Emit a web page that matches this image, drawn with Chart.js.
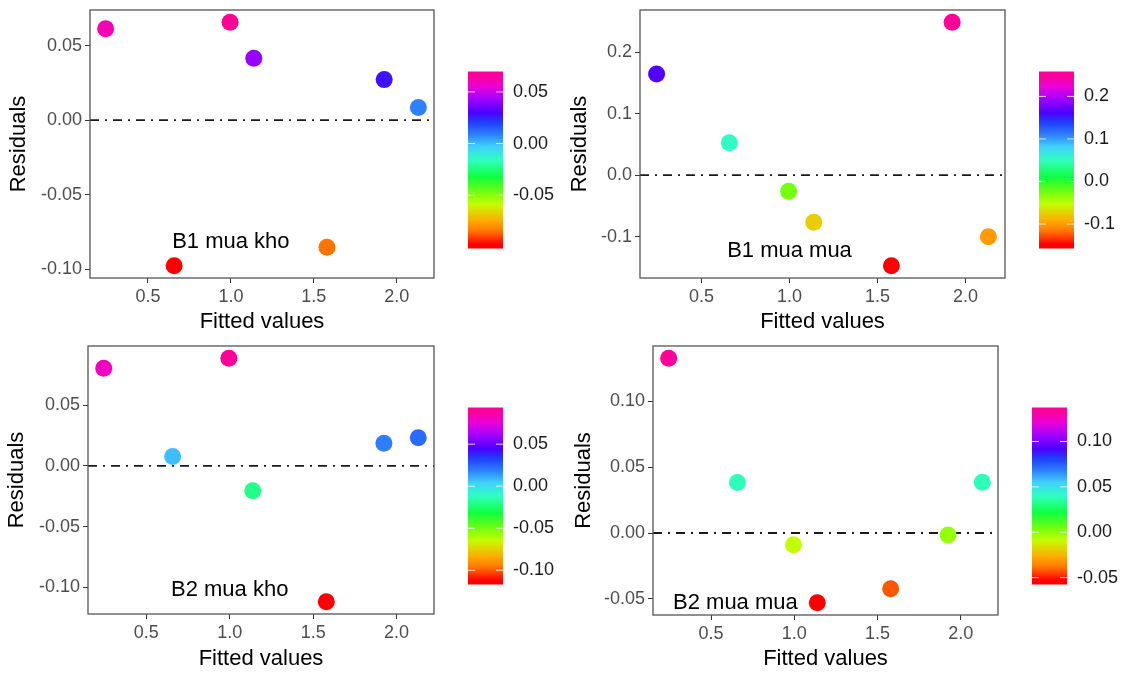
<!DOCTYPE html>
<html>
<head>
<meta charset="utf-8">
<script src="https://cdn.jsdelivr.net/npm/chart.js@4/dist/chart.umd.min.js"></script>
<style>
  html, body { margin: 0; padding: 0; background: #fff; }
  #wrap { position: relative; width: 1129px; height: 673px; }
  .panel { position: absolute; }
</style>
</head>
<body>
<div id="wrap">
  <div class="panel" style="left:0;top:0"><canvas id="p1" width="564" height="336"></canvas></div>
  <div class="panel" style="left:564px;top:0"><canvas id="p2" width="565" height="336"></canvas></div>
  <div class="panel" style="left:0;top:336px"><canvas id="p3" width="564" height="337"></canvas></div>
  <div class="panel" style="left:564px;top:336px"><canvas id="p4" width="565" height="337"></canvas></div>
</div>
<script>
// fitted values shared by all four models
const fitted = [0.245, 0.658, 0.995, 1.138, 1.579, 1.924, 2.130];

// residuals per model, same order as fitted
const resB1Kho = [0.0613, -0.0976, 0.0657, 0.0416, -0.0851, 0.0272, 0.0085];
const resB1Mua = [0.1643, 0.0524, -0.0265, -0.0767, -0.1476, 0.2486, -0.1005];
const resB2Kho = [0.0804, 0.0076, 0.0886, -0.0205, -0.1119, 0.0186, 0.0232];
const resB2Mua = [0.1328, 0.0384, -0.0089, -0.0530, -0.0423, -0.0015, 0.0386];

const xTicks = [0.5, 1.0, 1.5, 2.0];
const yTicksB1Kho = [-0.10, -0.05, 0.00, 0.05];
const yTicksB1Mua = [-0.1, 0.0, 0.1, 0.2];
const yTicksB2Kho = [-0.10, -0.05, 0.00, 0.05];
const yTicksB2Mua = [-0.05, 0.00, 0.05, 0.10];

const cbTicksB1Kho = [-0.05, 0.00, 0.05];
const cbTicksB1Mua = [-0.1, 0.0, 0.1, 0.2];
const cbTicksB2Kho = [-0.10, -0.05, 0.00, 0.05];
const cbTicksB2Mua = [-0.05, 0.00, 0.05, 0.10];

const panelLabels = ['B1 mua kho', 'B1 mua mua', 'B2 mua kho', 'B2 mua mua'];
const labelX = [1.0, 1.0, 1.0, 0.646];
const labelY = [-0.0816, -0.1227, -0.1025, -0.053];

const FONT = '"Liberation Sans", Arial, sans-serif';
Chart.defaults.font.family = FONT;

// rainbow colour ramp (red -> pink)
const ramp = [
  [0.00, [255, 0, 0]],
  [0.08, [255, 120, 0]],
  [0.14, [255, 172, 0]],
  [0.19, [226, 214, 0]],
  [0.24, [192, 255, 0]],
  [0.31, [112, 255, 16]],
  [0.40, [16, 255, 64]],
  [0.50, [48, 255, 192]],
  [0.58, [64, 208, 255]],
  [0.65, [45, 128, 255]],
  [0.72, [32, 64, 255]],
  [0.78, [74, 0, 255]],
  [0.86, [160, 0, 255]],
  [0.93, [230, 0, 220]],
  [1.00, [255, 0, 153]]
];

function rampColor(t) {
  t = Math.max(0, Math.min(1, t));
  for (let i = 1; i < ramp.length; i++) {
    if (t <= ramp[i][0]) {
      const [t0, c0] = ramp[i - 1], [t1, c1] = ramp[i];
      const f = (t - t0) / (t1 - t0);
      const c = c0.map((v, k) => Math.round(v + (c1[k] - v) * f));
      return 'rgb(' + c.join(',') + ')';
    }
  }
  return 'rgb(255,0,153)';
}

const decor = {
  id: 'decor',
  afterDatasetsDraw(chart, args, opts) {
    const { ctx, chartArea: a, scales } = chart;
    ctx.save();
    // panel border
    ctx.strokeStyle = '#555';
    ctx.lineWidth = 1.3;
    ctx.strokeRect(a.left, a.top, a.right - a.left, a.bottom - a.top);

    // text annotation
    ctx.fillStyle = '#000';
    ctx.font = '22px ' + FONT;
    ctx.textAlign = 'center';
    ctx.textBaseline = 'middle';
    ctx.fillText(opts.text, scales.x.getPixelForValue(opts.lx), scales.y.getPixelForValue(opts.ly));

    // colour bar
    const lo = Math.min(...opts.res), hi = Math.max(...opts.res);
    const ext = (hi - lo) * 0.025;
    const bLo = lo - ext, bHi = hi + ext;
    const top = 71.5, bottom = 248.5, left = a.right + 34, w = 35;
    const pos = v => bottom - (v - bLo) / (bHi - bLo) * (bottom - top);
    const g = ctx.createLinearGradient(0, bottom, 0, top);
    const p0 = ext / (bHi - bLo);
    g.addColorStop(0, rampColor(0));
    ramp.forEach(([t]) => g.addColorStop(p0 + t * (1 - 2 * p0), rampColor(t)));
    g.addColorStop(1, rampColor(1));
    ctx.fillStyle = g;
    ctx.fillRect(left, top, w, bottom - top);

    ctx.font = '18px ' + FONT;
    ctx.textAlign = 'left';
    opts.cbTicks.forEach(v => {
      const y = pos(v);
      ctx.strokeStyle = 'rgba(255,255,255,0.8)';
      ctx.lineWidth = 1;
      ctx.beginPath();
      ctx.moveTo(left, y); ctx.lineTo(left + 7, y);
      ctx.moveTo(left + w - 7, y); ctx.lineTo(left + w, y);
      ctx.stroke();
      ctx.fillStyle = '#1a1a1a';
      ctx.fillText(v.toFixed(opts.digits), left + w + 10, y);
    });
    ctx.restore();
  }
};

function makePanel(id, res, yTicks, cbTicks, digits, idx, frame) {
  const canvas = document.getElementById(id);
  const W = canvas.width, H = canvas.height;
  const span = fitted[fitted.length - 1] - fitted[0];
  const xMin = fitted[0] - span * 0.05, xMax = fitted[fitted.length - 1] + span * 0.05;
  const lo = Math.min(...res), hi = Math.max(...res);
  const yMin = lo - (hi - lo) * 0.05, yMax = hi + (hi - lo) * 0.05;

  new Chart(canvas, {
    type: 'scatter',
    data: {
      datasets: [
        {
          data: fitted.map((x, i) => ({ x: x, y: res[i] })),
          backgroundColor: res.map(v => rampColor((v - lo) / (hi - lo))),
          borderWidth: 0,
          pointRadius: 8.5,
          pointHoverRadius: 8.5
        },
        {
          type: 'line',
          data: [{ x: xMin, y: 0 }, { x: xMax, y: 0 }],
          borderColor: '#1a1a1a',
          borderWidth: 1.8,
          borderDash: [9, 6, 2, 6],
          pointRadius: 0,
          fill: false
        }
      ]
    },
    options: {
      responsive: false,
      animation: false,
      events: [],
      layout: { padding: { left: 0, top: 10, right: W - frame.right, bottom: 0 } },
      plugins: {
        legend: { display: false },
        tooltip: { enabled: false },
        decor: { text: panelLabels[idx], lx: labelX[idx], ly: labelY[idx], res: res, cbTicks: cbTicks, digits: digits }
      },
      scales: {
        x: {
          type: 'linear',
          min: xMin,
          max: xMax,
          afterBuildTicks: s => { s.ticks = xTicks.map(v => ({ value: v })); },
          afterFit: s => { s.height = H - frame.bottom; s.paddingLeft = 0; s.paddingRight = 0; },
          ticks: { callback: v => v.toFixed(1), color: '#4d4d4d', font: { size: 18 }, padding: 3, maxRotation: 0, autoSkip: false },
          grid: { drawOnChartArea: false, tickLength: 5, color: '#333', tickColor: '#333' },
          border: { display: false },
          title: { display: true, text: 'Fitted values', color: '#000', font: { size: 22 }, padding: { top: 2, bottom: 1 } }
        },
        y: {
          type: 'linear',
          min: yMin,
          max: yMax,
          afterBuildTicks: s => { s.ticks = yTicks.map(v => ({ value: v })); },
          afterFit: s => { s.width = frame.left; s.paddingTop = 0; s.paddingBottom = 0; },
          ticks: { callback: v => v.toFixed(digits), color: '#4d4d4d', font: { size: 18 }, padding: 3, autoSkip: false },
          grid: { drawOnChartArea: false, tickLength: 5, color: '#333', tickColor: '#333' },
          border: { display: false },
          title: { display: true, text: 'Residuals', color: '#000', font: { size: 22 }, padding: { top: frame.titlePad, bottom: 2 } }
        }
      }
    },
    plugins: [decor]
  });
}

makePanel('p1', resB1Kho, yTicksB1Kho, cbTicksB1Kho, 2, 0, { left: 90, right: 434, bottom: 278, titlePad: 6 });
makePanel('p2', resB1Mua, yTicksB1Mua, cbTicksB1Mua, 1, 1, { left: 76, right: 441, bottom: 278, titlePad: 3 });
makePanel('p3', resB2Kho, yTicksB2Kho, cbTicksB2Kho, 2, 2, { left: 88, right: 434, bottom: 278, titlePad: 4 });
makePanel('p4', resB2Mua, yTicksB2Mua, cbTicksB2Mua, 2, 3, { left: 89, right: 434, bottom: 279, titlePad: 7 });
</script>
</body>
</html>
